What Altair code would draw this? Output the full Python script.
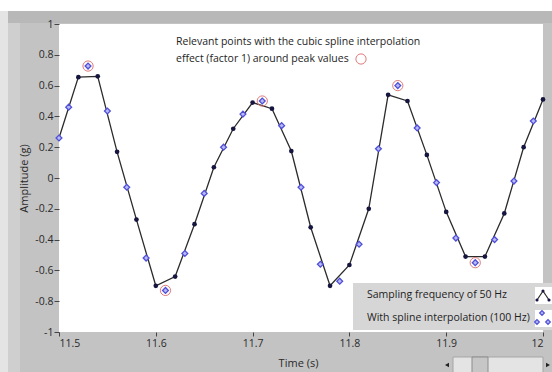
import altair as alt
import pandas as pd

# ---------------- data ----------------
t_50 = [11.50, 11.52, 11.54, 11.56, 11.58, 11.60, 11.62, 11.64, 11.66, 11.68,
        11.70, 11.72, 11.74, 11.76, 11.78, 11.80, 11.82, 11.84, 11.86, 11.88,
        11.90, 11.92, 11.94, 11.96, 11.98, 12.00]
y_50 = [0.26, 0.655, 0.66, 0.17, -0.27, -0.70, -0.64, -0.30, 0.07, 0.32,
        0.49, 0.45, 0.175, -0.32, -0.70, -0.565, -0.20, 0.54, 0.50, 0.15,
        -0.22, -0.51, -0.51, -0.23, 0.20, 0.51]

t_100 = [11.50, 11.51, 11.53, 11.55, 11.57, 11.59, 11.61, 11.63, 11.65, 11.67,
         11.69, 11.71, 11.73, 11.75, 11.77, 11.79, 11.81, 11.83, 11.85, 11.87,
         11.89, 11.91, 11.93, 11.95, 11.97, 11.99]
y_100 = [0.26, 0.46, 0.727, 0.435, -0.06, -0.52, -0.73, -0.49, -0.10, 0.20,
         0.415, 0.50, 0.34, -0.06, -0.56, -0.67, -0.43, 0.19, 0.60, 0.325,
         -0.03, -0.39, -0.55, -0.40, -0.02, 0.37]

peak_t = [11.53, 11.61, 11.71, 11.85, 11.93]
peak_y = [0.727, -0.73, 0.50, 0.60, -0.55]

x_ticks = [11.5, 11.6, 11.7, 11.8, 11.9, 12.0]
y_ticks = [-1, -0.8, -0.6, -0.4, -0.2, 0, 0.2, 0.4, 0.6, 0.8, 1]

note_lines = ["Relevant points with the cubic spline interpolation",
              "effect (factor 1) around peak values"]
legend_labels = ["Sampling frequency of 50 Hz", "With spline interpolation (100 Hz)"]

FONT = "Open Sans"
L, T = 59, 24          # plot origin in the page
W, H = 484, 308

df50 = pd.DataFrame({"t": t_50, "y": y_50})
df100 = pd.DataFrame({"t": t_100, "y": y_100})
dfpk = pd.DataFrame({"t": peak_t, "y": peak_y})
one = pd.DataFrame({"k": [0]})

xs = alt.Scale(domain=[11.5, 12.0], nice=False, zero=False)
ys = alt.Scale(domain=[-1, 1], nice=False, zero=False)


def box(x1, y1, x2, y2, fill, stroke=None, sw=1):
    kw = dict(fill=fill, clip=False)
    if stroke:
        kw.update(stroke=stroke, strokeWidth=sw)
    return alt.Chart(one).mark_rect(**kw).encode(
        x=alt.value(x1 - L), x2=alt.value(x2 - L),
        y=alt.value(y1 - T), y2=alt.value(y2 - T))


def label(x, y, txt, size=10.5, color="#1e1e1e", align="left"):
    return alt.Chart(one).mark_text(font=FONT, fontSize=size, color=color,
                                    align=align, baseline="middle", clip=False).encode(
        x=alt.value(x - L), y=alt.value(y - T), text=alt.value(txt))


def pt(x, y, shape, size, **kw):
    return alt.Chart(one).mark_point(shape=shape, size=size, clip=False, **kw).encode(
        x=alt.value(x - L), y=alt.value(y - T))


def seg(x1, y1, x2, y2, color, sw=1.2):
    return alt.Chart(one).mark_rule(color=color, strokeWidth=sw, clip=False).encode(
        x=alt.value(x1 - L), x2=alt.value(x2 - L),
        y=alt.value(y1 - T), y2=alt.value(y2 - T))


frame = [
    box(0, 0, 552, 11, "#ffffff"),
    box(0, 11, 8, 372, "#e4e4e4"),
    box(8, 11, 552, 23, "#b8b8b8"),
    box(8, 23, 20, 372, "#cfcfcf"),
]

base_x = alt.X("t:Q", scale=xs, axis=alt.Axis(
    values=x_ticks, labelExpr="datum.value == 12 ? '12' : format(datum.value, '.1f')",
    tickSize=4, tickColor="#444", domain=False, grid=False, labelPadding=2,
    labelFont=FONT, labelFontSize=10.5, labelColor="#2a2a2a",
    title="Time (s)", titleFont=FONT, titleFontSize=11, titleFontWeight="normal",
    titleColor="#2a2a2a", titleX=239, titleY=31, titleAlign="center",
    titleBaseline="middle", zindex=1))
base_y = alt.Y("y:Q", scale=ys, axis=alt.Axis(
    values=y_ticks, labelExpr="replace(format(datum.value, '~g'), '\u2212', '-')",
    tickSize=5, tickColor="#444", domain=False, grid=False, labelPadding=1,
    labelFont=FONT, labelFontSize=10.5, labelColor="#2a2a2a",
    title="Amplitude (g)", titleFont=FONT, titleFontSize=11, titleFontWeight="normal",
    titleColor="#2a2a2a", titleX=-35, titleY=154, titleAngle=-90, titleAlign="center",
    titleBaseline="middle", zindex=1))

line50 = alt.Chart(df50).mark_line(color="#2b2b2b", strokeWidth=1.3).encode(x=base_x, y=base_y)
diam = alt.Chart(df100).mark_point(shape="diamond", size=34, filled=True,
                                   fill="#b9b9f5", stroke="#4f4fd8", strokeWidth=1.3,
                                   opacity=1).encode(x=base_x, y=base_y)
dots = alt.Chart(df50).transform_filter("datum.t > 11.505").mark_point(
    shape="circle", size=22, filled=True, color="#15153f", opacity=1).encode(x=base_x, y=base_y)
rings = alt.Chart(dfpk).mark_point(shape="circle", size=105, filled=False,
                                   stroke="#e07a7a", strokeWidth=1, opacity=1).encode(x=base_x, y=base_y)

note = [
    label(176, 42, note_lines[0]),
    label(176, 59, note_lines[1]),
    pt(361, 59, "circle", 105, filled=False, stroke="#e07a7a", strokeWidth=1, opacity=1),
]

legend = [
    box(353, 283, 552, 330, "#d6d6d6"),
    label(367, 295, legend_labels[0]),
    label(367, 318, legend_labels[1]),
    box(535, 287, 552, 304, "#ffffff"),
    box(535, 310, 552, 327, "#ffffff"),
    seg(537, 300, 543, 291, "#2b2b2b"),
    seg(543, 291, 549, 300, "#2b2b2b"),
    pt(537, 300, "circle", 10, filled=True, color="#15153f", opacity=1),
    pt(543, 291, "circle", 10, filled=True, color="#15153f", opacity=1),
    pt(549, 300, "circle", 10, filled=True, color="#15153f", opacity=1),
    pt(542, 313, "diamond", 22, filled=True, fill="#b9b9f5", stroke="#4f4fd8", strokeWidth=1.2, opacity=1),
    pt(537, 322, "diamond", 22, filled=True, fill="#b9b9f5", stroke="#4f4fd8", strokeWidth=1.2, opacity=1),
    pt(548, 322, "diamond", 22, filled=True, fill="#b9b9f5", stroke="#4f4fd8", strokeWidth=1.2, opacity=1),
]

slider = [
    box(453, 357, 543, 373, "#e4e4e4", "#a5a5a5"),
    box(472, 357, 488, 373, "#c6c6c6", "#8c8c8c"),
    pt(447, 365, "triangle-left", 22, filled=True, color="#222", opacity=1),
    pt(548, 365, "triangle-right", 22, filled=True, color="#222", opacity=1),
]

chart = alt.layer(
    *frame, line50, diam, dots, rings, *note, *legend, *slider
).properties(
    width=W, height=H,
    autosize=alt.AutoSizeParams(type="none"),
    padding={"left": L, "top": T, "right": 552 - L - W, "bottom": 372 - T - H},
    background="#c3c3c3",
).configure_view(fill="#ffffff", strokeWidth=0)

chart.save("out.html", embed_options={"renderer": "svg", "actions": False})
